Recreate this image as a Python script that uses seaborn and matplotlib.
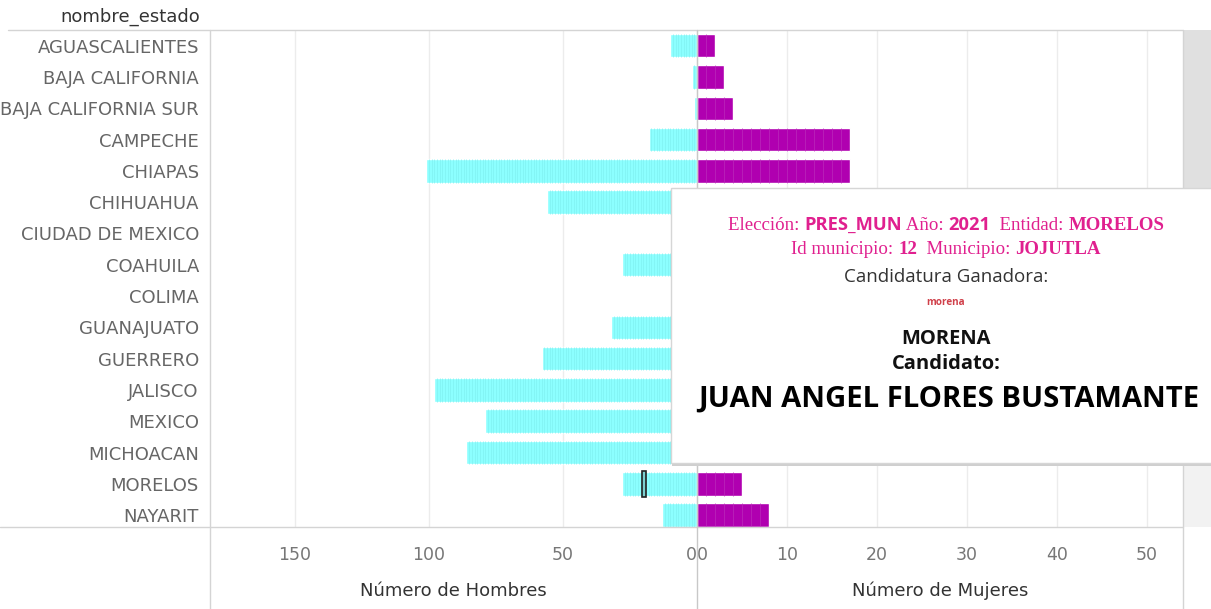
import pandas as pd
import matplotlib.pyplot as plt
import seaborn as sns
from matplotlib.lines import Line2D
from matplotlib.patches import Rectangle

# Data
estados = ['AGUASCALIENTES', 'BAJA CALIFORNIA', 'BAJA CALIFORNIA SUR', 'CAMPECHE',
           'CHIAPAS', 'CHIHUAHUA', 'CIUDAD DE MEXICO', 'COAHUILA', 'COLIMA',
           'GUANAJUATO', 'GUERRERO', 'JALISCO', 'MEXICO', 'MICHOACAN',
           'MORELOS', 'NAYARIT']
hombres = [10, 2, 1, 18, 101, 56, 9, 28, 6, 32, 58, 98, 79, 86, 28, 13]
mujeres = [2, 3, 4, 17, 17, 11, 7, 10, 4, 14, 23, 28, 47, 27, 5, 8]
seleccion_estado = 'MORELOS'
seleccion_pos = 20  # segment of the selected municipio (JOJUTLA)

W, H = 1211, 609
CYAN = '#8cffff'
CYAN_LINE = '#80f2f2'
PURPLE = '#b000b0'
PURPLE_LINE = '#bb2abb'
GRID = '#ececec'
ZERO = '#c8c8c8'


def fx(x):
    return x / W


def fy(y):
    return 1 - y / H


def draw_stripes(ax, values, color):
    # thin lines between the stacked unit marks (one per municipio)
    for i, n in enumerate(values):
        if n > 1:
            ax.vlines(range(1, n), i - 0.375, i + 0.375, color=color, lw=0.5, zorder=3)


df = pd.DataFrame({'nombre_estado': estados, 'hombres': hombres, 'mujeres': mujeres})

sns.set_style('white')
plt.rcParams['font.family'] = ['DejaVu Sans']

fig = plt.figure(figsize=(W / 100, H / 100), dpi=100)
bottom, height = fy(527), (527 - 30) / H
axL = fig.add_axes([fx(210), bottom, (697 - 210) / W, height])
axR = fig.add_axes([fx(697), bottom, (1183 - 697) / W, height])

sns.barplot(data=df, y='nombre_estado', x='hombres', ax=axL, color=CYAN, width=0.75,
            saturation=1, orient='h', zorder=2)
sns.barplot(data=df, y='nombre_estado', x='mujeres', ax=axR, color=PURPLE, width=0.75,
            saturation=1, orient='h', zorder=2)
draw_stripes(axL, hombres, CYAN_LINE)
draw_stripes(axR, mujeres, PURPLE_LINE)

# selected mark
i_sel = estados.index(seleccion_estado)
axL.add_patch(Rectangle((seleccion_pos - 1, i_sel - 0.41), 1.6, 0.82, facecolor='#7ccfcf',
                        edgecolor='#222222', lw=1.2, zorder=5))

axL.set_xlim(181.7, 0)
axR.set_xlim(0, 54)
for ax in (axL, axR):
    ax.set_ylim(15.38, -0.5)
    ax.set_ylabel('')
    ax.set_xlabel('')
    for s in ax.spines.values():
        s.set_visible(False)
    ax.tick_params(axis='both', length=0)
    ax.grid(axis='x', color=GRID, lw=1, zorder=0)
    ax.set_axisbelow(True)

axL.set_xticks([0, 50, 100, 150])
axR.set_xticks([0, 10, 20, 30, 40, 50])
for ax in (axL, axR):
    ax.tick_params(axis='x', pad=14, labelsize=12.5, labelcolor='#777777')
axL.tick_params(axis='y', pad=8, labelsize=13, labelcolor='#666666')
axR.set_yticks([])

# "00" at the zero line: left label right-aligned, right label left-aligned
for lab in axL.get_xticklabels():
    if lab.get_text() == '0':
        lab.set_ha('right')
for lab in axR.get_xticklabels():
    if lab.get_text() == '0':
        lab.set_ha('left')

fig.text(fx(453), fy(591), 'Número de Hombres', ha='center', va='center', fontsize=13, color='#333333')
fig.text(fx(940), fy(591), 'Número de Mujeres', ha='center', va='center', fontsize=13, color='#333333')
fig.text(fx(200), fy(17), 'nombre_estado', ha='right', va='center', fontsize=13, color='#333333')

# frame lines of the view
lines = [
    ((8, 1183), (30, 30), '#d4d4d4'),
    ((0, 1183), (527, 527), '#d4d4d4'),
    ((210, 210), (30, 609), '#d4d4d4'),
    ((697, 697), (30, 609), ZERO),
    ((1183, 1183), (30, 609), '#d4d4d4'),
]
for xs, ys, c in lines:
    fig.add_artist(Line2D([fx(x) for x in xs], [fy(y) for y in ys], color=c, lw=1))

# scrollbar
fig.add_artist(Rectangle((fx(1184), fy(527)), (1211 - 1184) / W, (527 - 30) / H,
                         transform=fig.transFigure, facecolor='#f2f2f2', edgecolor='none'))
fig.add_artist(Rectangle((fx(1184), fy(320)), (1211 - 1184) / W, (320 - 30) / H,
                         transform=fig.transFigure, facecolor='#e0e0e0', edgecolor='none'))

# tooltip
tx0, ty0, tx1, ty1 = 671, 188, 1213, 463
fig.add_artist(Rectangle((fx(tx0 + 1), fy(ty1 + 3)), (tx1 - tx0) / W, (ty1 - ty0) / H,
                         transform=fig.transFigure, facecolor='#cfcfcf', edgecolor='none', zorder=8))
fig.add_artist(Rectangle((fx(tx0), fy(ty1)), (tx1 - tx0) / W, (ty1 - ty0) / H,
                         transform=fig.transFigure, facecolor='white', edgecolor='#d6d6d6',
                         lw=1, zorder=9))

PINK = '#e0208f'
SERIF = ['Liberation Serif', 'DejaVu Serif']
SANS = ['Open Sans', 'DejaVu Sans']
renderer = fig.canvas.get_renderer()


def mixed_line(parts, cx, y):
    texts = []
    for s, fam, weight, size, color in parts:
        t = fig.text(0, fy(y), s, family=fam, fontweight=weight, fontsize=size, color=color,
                     ha='left', va='baseline', zorder=10)
        texts.append(t)
    widths = [t.get_window_extent(renderer).width for t in texts]
    x = cx - sum(widths) / 2
    for t, w in zip(texts, widths):
        t.set_x(fx(x))
        x += w


cx = 946
mixed_line([('Elección: ', SERIF, 'normal', 13.6, PINK), ('PRES_MUN', SANS, 'bold', 13.2, PINK),
            (' Año: ', SERIF, 'normal', 13.6, PINK), ('2021', SANS, 'bold', 13.2, PINK),
            ('  Entidad: ', SERIF, 'normal', 13.6, PINK), ('MORELOS', SERIF, 'bold', 13.6, PINK)],
           cx, 230)
mixed_line([('Id municipio: ', SERIF, 'normal', 13.6, PINK), ('12', SERIF, 'bold', 13.6, PINK),
            ('  Municipio: ', SERIF, 'normal', 13.6, PINK), ('JOJUTLA', SERIF, 'bold', 13.6, PINK)],
           cx, 254)
fig.text(fx(cx), fy(282), 'Candidatura Ganadora:', family=SANS, fontsize=13.5, color='#333333',
         ha='center', va='baseline', zorder=10)
fig.text(fx(cx), fy(305), 'morena', family=SANS, fontsize=7.2, fontweight='bold', color='#d0404a',
         ha='center', va='baseline', zorder=10)
fig.text(fx(cx), fy(344), 'MORENA', family=SANS, fontsize=14.5, fontweight='bold', color='#111111',
         ha='center', va='baseline', zorder=10)
fig.text(fx(cx), fy(369), 'Candidato:', family=SANS, fontsize=14.5, fontweight='bold', color='#111111',
         ha='center', va='baseline', zorder=10)
fig.text(fx(949), fy(407), 'JUAN ANGEL FLORES BUSTAMANTE', family=SANS, fontsize=21.1,
         fontweight='bold', color='#000000', ha='center', va='baseline', zorder=10)

fig.savefig('out.png', dpi=100)
plt.close(fig)
